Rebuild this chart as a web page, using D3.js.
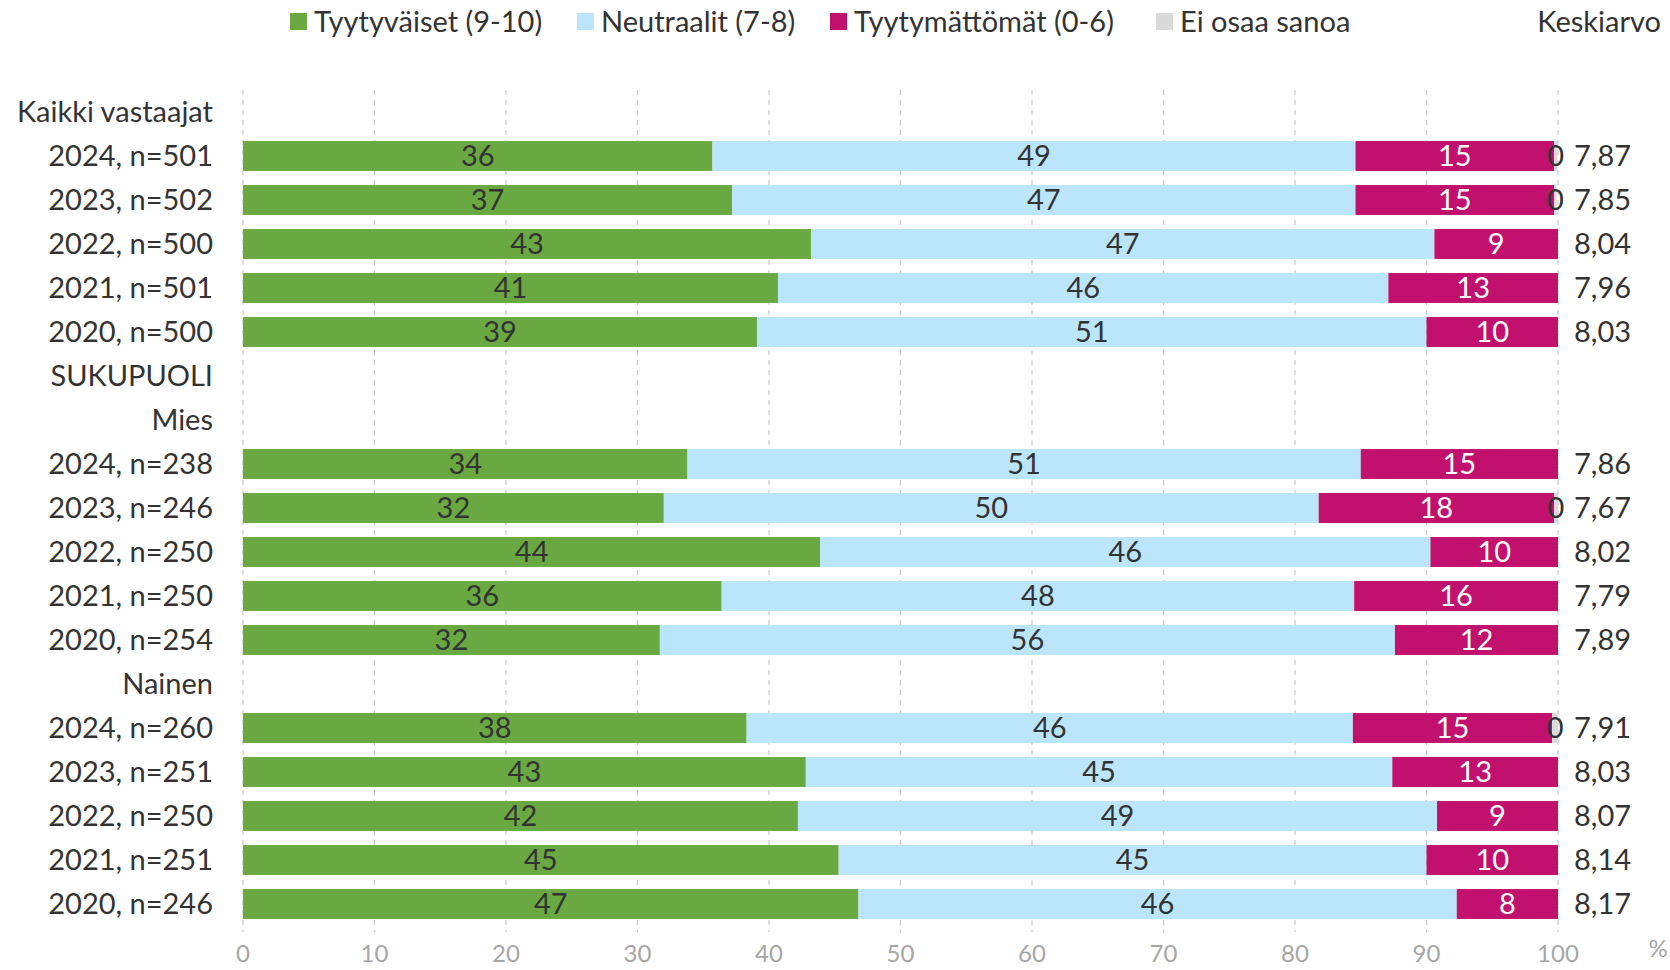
<!DOCTYPE html>
<html>
<head>
<meta charset="utf-8">
<script src="https://cdn.jsdelivr.net/npm/d3@7"></script>
<style>
  body { margin: 0; background: #fff; }
  svg { font-family: Lato, "Open Sans", sans-serif; }
</style>
</head>
<body>
<svg id="chart" width="1670" height="970"></svg>
<script>
// rows top to bottom; heading rows have no values
const rowLabels = ["Kaikki vastaajat", "2024, n=501", "2023, n=502", "2022, n=500", "2021, n=501", "2020, n=500",
  "SUKUPUOLI", "Mies", "2024, n=238", "2023, n=246", "2022, n=250", "2021, n=250", "2020, n=254",
  "Nainen", "2024, n=260", "2023, n=251", "2022, n=250", "2021, n=251", "2020, n=246"];
const satisfied = [null, 35.7, 37.2, 43.2, 40.7, 39.1, null, null, 33.8, 32.0, 43.9, 36.4, 31.7, null, 38.3, 42.8, 42.2, 45.3, 46.8];
const neutral   = [null, 48.9, 47.4, 47.4, 46.4, 50.9, null, null, 51.2, 49.8, 46.4, 48.1, 55.9, null, 46.1, 44.6, 48.6, 44.7, 45.5];
const unhappy   = [null, 15.1, 15.1,  9.4, 12.9, 10.0, null, null, 15.0, 17.9,  9.7, 15.5, 12.4, null, 15.15, 12.6, 9.2, 10.0, 7.7];
const dontKnow  = [null, 0.25, 0.2, 0, 0, 0, null, null, 0, 0.3, 0, 0, 0, null, 0.45, 0, 0, 0, 0];
const means     = [null, "7,87", "7,85", "8,04", "7,96", "8,03", null, null, "7,86", "7,67", "8,02", "7,79", "7,89", null, "7,91", "8,03", "8,07", "8,14", "8,17"];
const seriesNames = ["Tyytyväiset (9-10)", "Neutraalit (7-8)", "Tyytymättömät (0-6)", "Ei osaa sanoa"];
const seriesColors = ["#6aa842", "#bbe5fa", "#c1106d", "#d9d9d9"];
const labelColors = ["#333", "#333", "#fff", "#333"];
const xTicks = [0, 10, 20, 30, 40, 50, 60, 70, 80, 90, 100];

const fs = 29;
const svg = d3.select("#chart");
const x = d3.scaleLinear().domain([0, 100]).range([243, 1558]);
const y = d3.scaleBand().domain(d3.range(rowLabels.length)).range([90, 926]).paddingInner(0.32).paddingOuter(0.16);

// dashed grid
svg.append("g").selectAll("line").data(xTicks).enter().append("line")
  .attr("x1", d => x(d)).attr("x2", d => x(d))
  .attr("y1", 90).attr("y2", 932)
  .attr("stroke", "#c8c8c8").attr("stroke-width", 1.2).attr("stroke-dasharray", "5,5");

// axis labels
svg.append("g").selectAll("text").data(xTicks).enter().append("text")
  .attr("x", d => x(d)).attr("y", 962).attr("text-anchor", "middle")
  .attr("font-size", 24).attr("fill", "#a6a6a6").text(d => d);
svg.append("text").attr("x", 1658).attr("y", 957).attr("text-anchor", "middle")
  .attr("font-size", 24).attr("fill", "#a6a6a6").text("%");

// stacked bars
const series = [satisfied, neutral, unhappy, dontKnow];
const rows = d3.range(rowLabels.length).filter(i => satisfied[i] !== null);
rows.forEach(i => {
  let acc = 0;
  series.forEach((s, k) => {
    const v = s[i];
    const x0 = acc;
    acc += v;
    if (v > 0) {
      svg.append("rect").attr("x", x(x0)).attr("y", y(i))
        .attr("width", x(acc) - x(x0)).attr("height", y.bandwidth())
        .attr("fill", seriesColors[k]);
    }
    if (k < 3 || v > 0) {
      svg.append("text").attr("x", x(x0 + v / 2)).attr("y", y(i) + y.bandwidth() / 2)
        .attr("dy", "0.36em").attr("text-anchor", "middle")
        .attr("font-size", fs).attr("fill", labelColors[k]).text(Math.round(v));
    }
  });
  svg.append("text").attr("x", 1574).attr("y", y(i) + y.bandwidth() / 2)
    .attr("dy", "0.36em").attr("font-size", fs).attr("fill", "#333").text(means[i]);
});

// row labels
svg.append("g").selectAll("text").data(rowLabels).enter().append("text")
  .attr("x", 213).attr("y", (d, i) => y(i) + y.bandwidth() / 2)
  .attr("dy", "0.36em").attr("text-anchor", "end")
  .attr("font-size", fs).attr("fill", "#333").text(d => d);

// legend
const legendX = [290, 577, 830, 1156];
seriesNames.forEach((n, k) => {
  svg.append("rect").attr("x", legendX[k]).attr("y", 13).attr("width", 17).attr("height", 17).attr("fill", seriesColors[k]);
  svg.append("text").attr("x", legendX[k] + 24).attr("y", 22).attr("dy", "0.36em")
    .attr("font-size", fs).attr("fill", "#333").text(n);
});
svg.append("text").attr("x", 1661).attr("y", 22).attr("dy", "0.36em").attr("text-anchor", "end")
  .attr("font-size", fs).attr("fill", "#333").text("Keskiarvo");
</script>
</body>
</html>
